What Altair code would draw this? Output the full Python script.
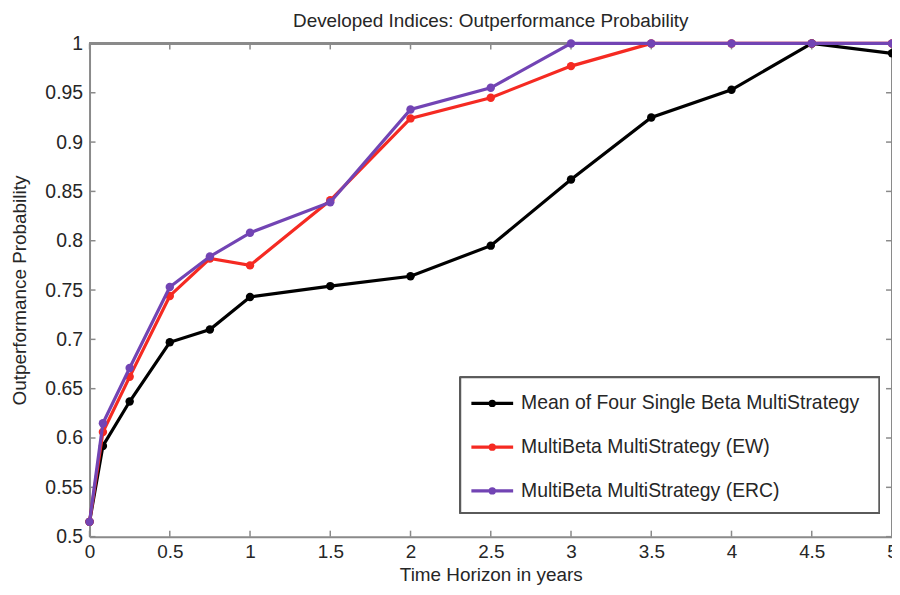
import altair as alt
import pandas as pd

# ---- data ----
horizon = [0, 1/12, 0.25, 0.5, 0.75, 1, 1.5, 2, 2.5, 3, 3.5, 4, 4.5, 5]
mean_single = [0.515, 0.592, 0.637, 0.697, 0.710, 0.743, 0.754, 0.764, 0.795, 0.862, 0.925, 0.953, 1.0, 0.990]
multi_ew = [0.515, 0.606, 0.662, 0.744, 0.782, 0.775, 0.841, 0.924, 0.945, 0.977, 1.0, 1.0, 1.0, 1.0]
multi_erc = [0.515, 0.615, 0.671, 0.753, 0.784, 0.808, 0.839, 0.933, 0.955, 1.0, 1.0, 1.0, 1.0, 1.0]
series_names = [
    "Mean of Four Single Beta MultiStrategy",
    "MultiBeta MultiStrategy (EW)",
    "MultiBeta MultiStrategy (ERC)",
]
series_colors = ["#000000", "#f52a22", "#7244b4"]
x_ticks = [0, 0.5, 1, 1.5, 2, 2.5, 3, 3.5, 4, 4.5, 5]
y_ticks = [0.5, 0.55, 0.6, 0.65, 0.7, 0.75, 0.8, 0.85, 0.9, 0.95, 1.0]

rows = []
for name, vals in zip(series_names, [mean_single, multi_ew, multi_erc]):
    for h, v in zip(horizon, vals):
        rows.append({"horizon": h, "prob": v, "series": name})
df = pd.DataFrame(rows)
xt = pd.DataFrame({"t": x_ticks})
yt = pd.DataFrame({"t": y_ticks})

W, H = 807, 496
FONT = "Liberation Sans"
GRAY = "#8a8a8a"
TXT = "#262626"
TICK = 6

xscale = alt.Scale(domain=[0, 5], nice=False, zero=False)
yscale = alt.Scale(domain=[0.5, 1.0], nice=False, zero=False)
cscale = alt.Scale(domain=series_names, range=series_colors)

xaxis = alt.Axis(
    values=x_ticks, format="~g", title="Time Horizon in years",
    domainColor=GRAY, domainWidth=2, ticks=False, grid=False,
    labelFont=FONT, labelFontSize=19, labelColor=TXT, labelPadding=6,
    titleFont=FONT, titleFontSize=19, titleFontWeight="normal", titleColor=TXT,
    titlePadding=4, labelFlush=False, labelOverlap=False,
)
yaxis = alt.Axis(
    values=y_ticks, format="~g", title="Outperformance Probability",
    domainColor=GRAY, domainWidth=2, ticks=False, grid=False,
    labelFont=FONT, labelFontSize=19.5, labelColor=TXT, labelPadding=7,
    titleFont=FONT, titleFontSize=19, titleFontWeight="normal", titleColor=TXT,
    titlePadding=15, labelFlush=False, labelOverlap=False,
)

sym_path = "M-1,0H1M0.1,0A0.1,0.1,0,1,1,-0.1,0A0.1,0.1,0,1,1,0.1,0"
legend = alt.Legend(
    title=None, orient="none", legendX=373, legendY=330,
    symbolType=sym_path, symbolSize=1764, symbolStrokeWidth=3.2,
    symbolOffset=0, labelOffset=6,
    labelFont=FONT, labelFontSize=19.5, labelColor=TXT, labelLimit=600,
    padding=9, rowPadding=11,
)

# legend frame, plot frame (top and right borders) and inward ticks on all four sides
legend_box = alt.Chart(xt).mark_rect(fill="#ffffff", stroke="#5a5a5a", strokeWidth=1.6).encode(
    x=alt.value(373), x2=alt.value(794), y=alt.value(336), y2=alt.value(472))
top_border = alt.Chart(xt).mark_rule(color=GRAY, strokeWidth=2).encode(
    x=alt.value(0), x2=alt.value(W), y=alt.value(0))
right_border = alt.Chart(xt).mark_rule(color=GRAY, strokeWidth=2).encode(
    x=alt.value(W), y=alt.value(0), y2=alt.value(H))
bottom_ticks = alt.Chart(xt).mark_rule(color=GRAY, strokeWidth=1.5).encode(
    x=alt.X("t:Q", scale=xscale, axis=xaxis), y=alt.value(H), y2=alt.value(H - TICK))
top_ticks = alt.Chart(xt).mark_rule(color=GRAY, strokeWidth=1.5).encode(
    x=alt.X("t:Q", scale=xscale, axis=xaxis), y=alt.value(0), y2=alt.value(TICK))
left_ticks = alt.Chart(yt).mark_rule(color=GRAY, strokeWidth=1.5).encode(
    y=alt.Y("t:Q", scale=yscale, axis=yaxis), x=alt.value(0), x2=alt.value(TICK))
right_ticks = alt.Chart(yt).mark_rule(color=GRAY, strokeWidth=1.5).encode(
    y=alt.Y("t:Q", scale=yscale, axis=yaxis), x=alt.value(W), x2=alt.value(W - TICK))

layers = [legend_box, top_border, right_border, bottom_ticks, top_ticks, left_ticks, right_ticks]
for i, name in enumerate(series_names):
    sub = alt.Chart(df).transform_filter(alt.datum.series == name)
    line = sub.mark_line(strokeWidth=3.2).encode(
        x=alt.X("horizon:Q", scale=xscale, axis=xaxis),
        y=alt.Y("prob:Q", scale=yscale, axis=yaxis),
        color=alt.Color("series:N", scale=cscale, legend=legend),
    )
    pts = sub.mark_point(filled=True, shape="circle", size=72, opacity=1).encode(
        x=alt.X("horizon:Q", scale=xscale, axis=xaxis),
        y=alt.Y("prob:Q", scale=yscale, axis=yaxis),
        color=alt.Color("series:N", scale=cscale, legend=legend),
    )
    layers += [line, pts]

chart = alt.layer(*layers).properties(
    width=W, height=H,
    title=alt.TitleParams(
        "Developed Indices: Outperformance Probability",
        font=FONT, fontSize=19, fontWeight="normal", color=TXT,
        anchor="middle", offset=-16, baseline="bottom",
    ),
    padding={"left": 82, "top": 34, "right": 0, "bottom": 49},
    autosize=alt.AutoSizeParams(type="none"),
).configure_view(stroke=None)

chart.save("out.html", embed_options={"renderer": "svg", "actions": False})
